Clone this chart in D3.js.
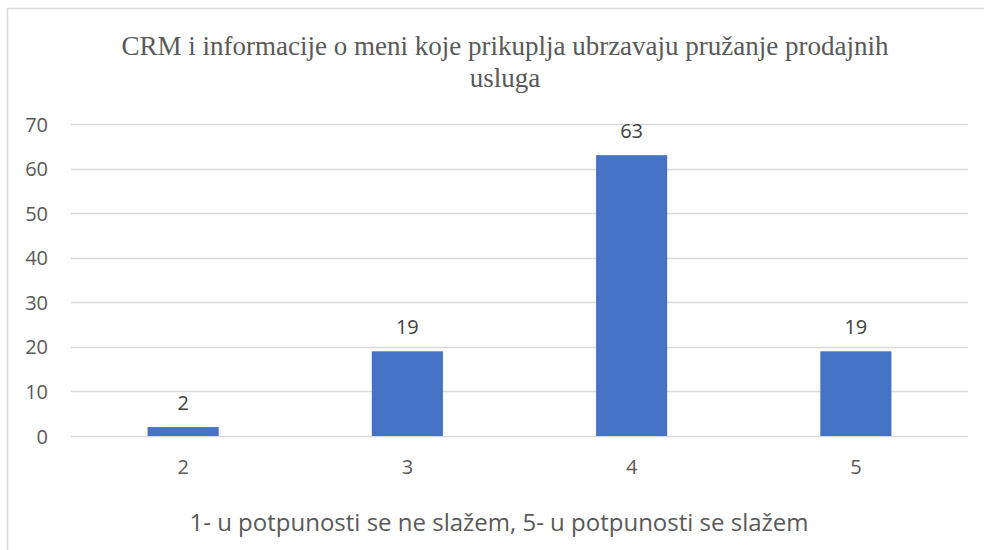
<!DOCTYPE html>
<html>
<head>
<meta charset="utf-8">
<script src="https://cdn.jsdelivr.net/npm/d3@7"></script>
<style>
  html, body { margin: 0; padding: 0; background: #fff; }
  svg { display: block; }
</style>
</head>
<body>
<svg id="chart" width="984" height="550"></svg>
<script>
// Survey answers: agreement level and number of respondents
const categories = ["2", "3", "4", "5"];
const counts = [2, 19, 63, 19];
const yTicks = [0, 10, 20, 30, 40, 50, 60, 70];
const titleLines = ["CRM i informacije o meni koje prikuplja ubrzavaju pružanje prodajnih", "usluga"];
const xAxisTitle = "1- u potpunosti se ne slažem, 5- u potpunosti se slažem";

const svg = d3.select("#chart");
const W = 984, H = 550;
const plot = { left: 71, right: 968, top: 124, bottom: 436 };
const textColor = "#595959";
const sans = "'Open Sans', 'Noto Sans', sans-serif";

// Chart frame
svg.append("rect")
  .attr("x", 7.5).attr("y", 8.5)
  .attr("width", W).attr("height", H)
  .attr("fill", "#fff")
  .attr("stroke", "#d9d9d9").attr("stroke-width", 1.5);

const x = d3.scaleBand()
  .domain(categories)
  .range([plot.left, plot.right])
  .paddingInner(0.683).paddingOuter(0.3415);

const y = d3.scaleLinear()
  .domain([0, 70])
  .range([plot.bottom, plot.top]);

// Horizontal gridlines
svg.append("g")
  .selectAll("line")
  .data(yTicks)
  .join("line")
  .attr("x1", plot.left).attr("x2", plot.right)
  .attr("y1", d => Math.round(y(d)) + 0.5).attr("y2", d => Math.round(y(d)) + 0.5)
  .attr("stroke", "#d9d9d9").attr("stroke-width", 1.3);

// Y axis labels
const yAxis = d3.axisLeft(y).tickValues(yTicks).tickSize(0).tickPadding(0);
const yG = svg.append("g").attr("transform", `translate(48,0)`).call(yAxis);
yG.select(".domain").remove();
yG.selectAll("text")
  .attr("fill", textColor)
  .attr("font-family", sans)
  .attr("font-size", 20)
  .attr("dy", "0.35em");

// Bars
svg.append("g")
  .selectAll("rect")
  .data(counts)
  .join("rect")
  .attr("x", (d, i) => x(categories[i]))
  .attr("width", x.bandwidth())
  .attr("y", d => y(d))
  .attr("height", d => y(0) - y(d))
  .attr("fill", "#4472c4");

// Value labels above bars
svg.append("g")
  .selectAll("text")
  .data(counts)
  .join("text")
  .attr("x", (d, i) => x(categories[i]) + x.bandwidth() / 2)
  .attr("y", d => y(d) - 17)
  .attr("text-anchor", "middle")
  .attr("fill", "#404040")
  .attr("font-family", sans)
  .attr("font-size", 20)
  .text(d => d);

// X axis labels
const xAxis = d3.axisBottom(x).tickSize(0).tickPadding(0);
const xG = svg.append("g").attr("transform", `translate(0,474)`).call(xAxis);
xG.select(".domain").remove();
xG.selectAll("text")
  .attr("fill", textColor)
  .attr("font-family", sans)
  .attr("font-size", 20)
  .attr("dy", 0);

// Title
svg.append("text")
  .attr("text-anchor", "middle")
  .attr("fill", textColor)
  .attr("font-family", "'Liberation Serif', 'Times New Roman', serif")
  .attr("font-size", 27)
  .selectAll("tspan")
  .data(titleLines)
  .join("tspan")
  .attr("x", 505)
  .attr("y", (d, i) => 55 + i * 32)
  .text(d => d);

// X axis title
svg.append("text")
  .attr("x", 499).attr("y", 531)
  .attr("text-anchor", "middle")
  .attr("fill", textColor)
  .attr("font-family", sans)
  .attr("font-size", 24)
  .text(xAxisTitle);
</script>
</body>
</html>
